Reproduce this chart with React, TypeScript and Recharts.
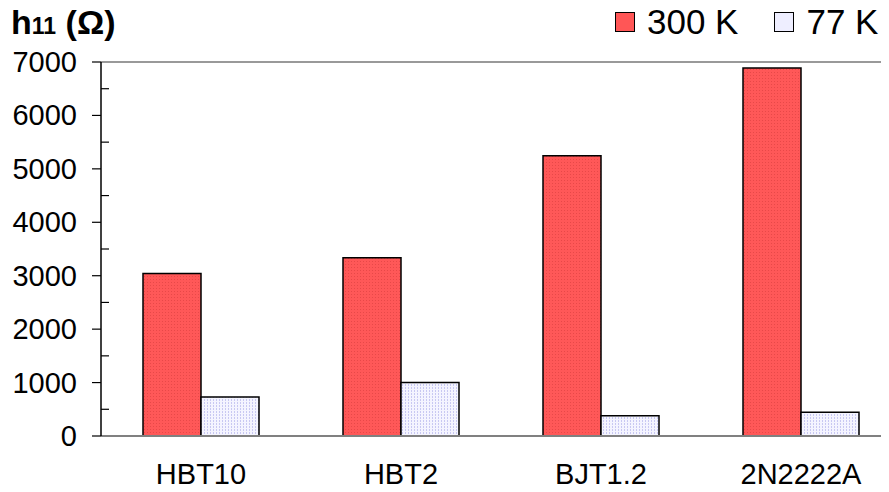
import React from "react";
import { BarChart, Bar, XAxis, YAxis, ReferenceLine } from "recharts";

const categories = ["HBT10", "HBT2", "BJT1.2", "2N2222A"];
const h300K = [3040, 3335, 5245, 6890];
const h77K = [730, 1000, 380, 445];
const yTicks = [0, 500, 1000, 1500, 2000, 2500, 3000, 3500, 4000, 4500, 5000, 5500, 6000, 6500, 7000];

const data = categories.map((name, i) => ({ name, hot: h300K[i], cold: h77K[i] }));

const FONT = "'Liberation Sans', Arial, sans-serif";
const AXIS_X = 101;

function YTick({ y, payload }: any) {
  const major = payload.value % 1000 === 0;
  return (
    <g>
      {major ? (
        <>
          <line x1={AXIS_X - 9} x2={AXIS_X} y1={y} y2={y} stroke="#000" strokeWidth={1.2} />
          <text x={AXIS_X - 24} y={y} dy={10} textAnchor="end" fontSize={29} fontFamily={FONT} fill="#000">
            {payload.value}
          </text>
        </>
      ) : (
        <line x1={AXIS_X} x2={AXIS_X + 8} y1={y} y2={y} stroke="#000" strokeWidth={1.2} />
      )}
    </g>
  );
}

function XTick({ x, y, payload }: any) {
  return (
    <text x={x} y={y} dy={40} textAnchor="middle" fontSize={29} fontFamily={FONT} fill="#000">
      {payload.value}
    </text>
  );
}

export default function App() {
  return (
    <div style={{ margin: -8, width: 889, height: 492, overflow: "hidden", position: "relative", background: "#fff" }}>
      <div style={{ position: "absolute", left: 11, top: 0, fontFamily: FONT, fontWeight: "bold", color: "#000", whiteSpace: "nowrap", lineHeight: "44px" }}>
        <span style={{ fontSize: 34 }}>h</span>
        <span style={{ fontSize: 23 }}>11</span>
        <span style={{ fontSize: 34 }}> (Ω)</span>
      </div>
      <div style={{ position: "absolute", left: 615, top: 2, fontFamily: FONT, fontSize: 35, color: "#000", display: "flex", alignItems: "center", whiteSpace: "nowrap" }}>
        <span style={{ width: 18, height: 18, background: "#ff5656", border: "1.5px solid #000", marginRight: 12 }} />
        <span style={{ marginRight: 36 }}>300 K</span>
        <span style={{ width: 18, height: 18, background: "#eeeeff", border: "1.5px solid #000", marginRight: 12 }} />
        <span>77 K</span>
      </div>
      <BarChart
        width={902}
        height={492}
        data={data}
        margin={{ top: 62, right: 1, bottom: 0, left: 0 }}
        barCategoryGap={42}
        barGap={0}
      >
        <defs>
          <pattern id="redDots" width="3" height="3" patternUnits="userSpaceOnUse">
            <rect width="3" height="3" fill="#ff5858" />
            <rect width="1" height="1" fill="#e84848" />
          </pattern>
          <pattern id="blueDots" width="3" height="3" patternUnits="userSpaceOnUse">
            <rect width="3" height="3" fill="#f4f4ff" />
            <rect width="1" height="2" fill="#c8c8f2" />
          </pattern>
        </defs>
        <ReferenceLine y={7000} stroke="#999" strokeWidth={2} />
        <XAxis
          dataKey="name"
          height={56}
          axisLine={{ stroke: "#808080", strokeWidth: 2 }}
          tickLine={false}
          tick={<XTick />}
          interval={0}
        />
        <YAxis
          width={101}
          domain={[0, 7000]}
          ticks={yTicks}
          interval={0}
          axisLine={{ stroke: "#000", strokeWidth: 1.5 }}
          tickLine={false}
          tick={<YTick />}
        />
        <Bar dataKey="hot" fill="url(#redDots)" stroke="#000" strokeWidth={1.5} isAnimationActive={false} />
        <Bar dataKey="cold" fill="url(#blueDots)" stroke="#000" strokeWidth={1.5} isAnimationActive={false} />
      </BarChart>
    </div>
  );
}
